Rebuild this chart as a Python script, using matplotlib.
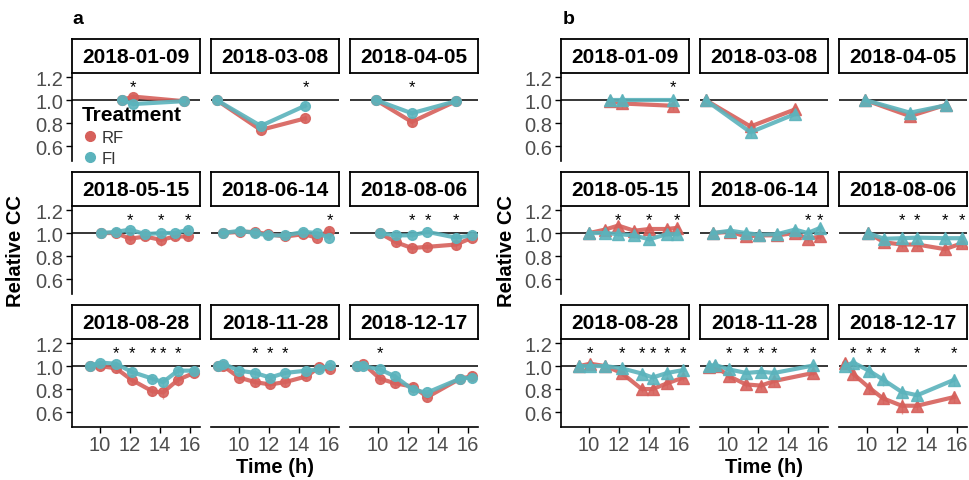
import matplotlib
matplotlib.use("Agg")
import matplotlib.pyplot as plt
from matplotlib.lines import Line2D

plt.rcParams.update({
    'font.family': ['Liberation Sans', 'DejaVu Sans'],
    'font.size': 13,
})

# ---------- data ----------
dates = ["2018-01-09", "2018-03-08", "2018-04-05",
         "2018-05-15", "2018-06-14", "2018-08-06",
         "2018-08-28", "2018-11-28", "2018-12-17"]

# panel a
a_time = [
    [11.47, 12.2, 15.6],
    [8.5, 11.45, 14.4],
    [9.85, 12.25, 15.2],
    [10.07, 11.07, 12.0, 13.0, 14.07, 15.0, 15.9],
    [8.9, 10.07, 11.07, 11.9, 13.1, 14.3, 15.2, 16.0],
    [10.1, 11.2, 12.25, 13.3, 15.2, 16.3],
    [9.3, 10.0, 11.07, 12.1, 13.5, 14.2, 15.2, 16.27],
    [8.62, 8.95, 10.0, 11.07, 12.07, 13.07, 14.5, 15.35, 16.07],
    [8.58, 9.02, 10.13, 11.13, 12.36, 13.29, 15.47, 16.24],
]
a_rf = [
    [1.00, 1.03, 0.99],
    [1.00, 0.74, 0.84],
    [1.00, 0.81, 0.99],
    [1.00, 1.00, 0.95, 0.97, 0.94, 0.97, 0.97],
    [1.00, 1.01, 1.01, 0.99, 0.97, 0.99, 0.96, 1.02],
    [1.00, 0.92, 0.87, 0.88, 0.90, 0.96],
    [1.00, 1.00, 0.98, 0.88, 0.78, 0.77, 0.88, 0.94],
    [1.00, 1.00, 0.90, 0.86, 0.84, 0.86, 0.91, 0.99, 0.97],
    [1.00, 1.02, 0.89, 0.85, 0.82, 0.73, 0.89, 0.91],
]
a_fi = [
    [1.00, 0.965, 0.99],
    [1.00, 0.775, 0.95],
    [1.00, 0.885, 0.99],
    [1.00, 1.01, 1.03, 0.99, 1.00, 1.00, 1.03],
    [1.00, 1.02, 1.00, 0.98, 0.98, 1.01, 1.00, 0.96],
    [1.00, 0.98, 0.98, 1.01, 0.96, 0.98],
    [1.00, 1.03, 1.02, 0.95, 0.89, 0.86, 0.96, 0.96],
    [1.00, 1.02, 0.96, 0.94, 0.90, 0.94, 0.96, 0.97, 1.01],
    [1.00, 1.00, 0.97, 0.91, 0.79, 0.77, 0.89, 0.90],
]
a_rf_se = [
    [0.01, 0.02, 0.01],
    [0.01, 0.03, 0.03],
    [0.01, 0.04, 0.02],
    [0.01, 0.02, 0.03, 0.03, 0.05, 0.03, 0.04],
    [0.01, 0.02, 0.03, 0.03, 0.03, 0.02, 0.03, 0.02],
    [0.01, 0.04, 0.04, 0.03, 0.04, 0.03],
    [0.04, 0.03, 0.04, 0.04, 0.04, 0.06, 0.05, 0.03],
    [0.01, 0.02, 0.03, 0.04, 0.03, 0.03, 0.03, 0.02, 0.02],
    [0.02, 0.03, 0.04, 0.04, 0.04, 0.03, 0.03, 0.04],
]
a_fi_se = [
    [0.01, 0.02, 0.01],
    [0.01, 0.03, 0.02],
    [0.01, 0.02, 0.02],
    [0.01, 0.01, 0.02, 0.03, 0.02, 0.02, 0.03],
    [0.01, 0.02, 0.02, 0.02, 0.02, 0.02, 0.02, 0.02],
    [0.01, 0.03, 0.02, 0.02, 0.03, 0.03],
    [0.02, 0.02, 0.02, 0.02, 0.03, 0.03, 0.03, 0.03],
    [0.01, 0.02, 0.02, 0.03, 0.02, 0.02, 0.02, 0.02, 0.02],
    [0.02, 0.02, 0.02, 0.03, 0.03, 0.02, 0.03, 0.02],
]
a_stars = [
    [12.2], [14.45], [12.25],
    [12.0, 14.07, 15.9], [16.05], [12.25, 13.3, 15.2],
    [11.07, 12.1, 13.5, 14.2, 15.2], [11.07, 12.07, 13.07], [10.13],
]

# panel b
b_time = [
    [11.4, 12.2, 15.6],
    [8.5, 11.5, 14.5],
    [9.87, 12.87, 15.3],
    [10.02, 11.07, 11.95, 13.0, 14.02, 15.18, 15.9],
    [8.98, 10.16, 11.2, 12.09, 13.27, 14.47, 15.31, 16.15],
    [10.09, 11.13, 12.31, 13.35, 15.2, 16.31],
    [9.36, 10.07, 11.07, 12.18, 13.51, 14.24, 15.22, 16.29],
    [8.75, 9.13, 10.09, 11.2, 12.2, 13.09, 15.7],
    [8.53, 9.09, 10.16, 11.05, 12.31, 13.35, 15.8],
]
b_rf = [
    [0.99, 0.97, 0.95],
    [1.00, 0.77, 0.92],
    [1.00, 0.86, 0.96],
    [1.00, 1.03, 1.065, 1.02, 1.035, 1.035, 1.045],
    [1.00, 1.01, 0.97, 0.98, 0.98, 1.00, 0.95, 0.97],
    [1.00, 0.92, 0.90, 0.90, 0.86, 0.91],
    [1.00, 1.02, 1.00, 0.94, 0.80, 0.80, 0.85, 0.90],
    [0.99, 1.00, 0.91, 0.84, 0.83, 0.87, 0.94],
    [1.03, 0.93, 0.81, 0.72, 0.655, 0.655, 0.73],
]
b_fi = [
    [1.00, 1.00, 1.00],
    [1.00, 0.72, 0.88],
    [1.00, 0.89, 0.955],
    [1.00, 1.00, 0.99, 0.98, 0.945, 0.99, 0.99],
    [1.00, 1.02, 1.00, 0.985, 0.99, 1.03, 1.00, 1.045],
    [1.00, 0.95, 0.955, 0.96, 0.955, 0.955],
    [1.00, 1.00, 1.00, 0.98, 0.935, 0.90, 0.94, 0.965],
    [1.00, 1.01, 0.97, 0.94, 0.95, 0.94, 1.005],
    [1.00, 1.03, 0.957, 0.884, 0.775, 0.746, 0.88],
]
b_rf_se = [
    [0.01, 0.04, 0.04],
    [0.01, 0.04, 0.03],
    [0.01, 0.03, 0.02],
    [0.01, 0.02, 0.03, 0.02, 0.03, 0.02, 0.03],
    [0.01, 0.02, 0.02, 0.02, 0.02, 0.02, 0.03, 0.03],
    [0.01, 0.03, 0.03, 0.03, 0.03, 0.03],
    [0.02, 0.03, 0.02, 0.03, 0.03, 0.04, 0.04, 0.03],
    [0.01, 0.02, 0.03, 0.03, 0.03, 0.04, 0.03],
    [0.04, 0.04, 0.05, 0.05, 0.07, 0.04, 0.05],
]
b_fi_se = [
    [0.01, 0.05, 0.03],
    [0.01, 0.04, 0.02],
    [0.01, 0.03, 0.02],
    [0.01, 0.02, 0.02, 0.02, 0.02, 0.02, 0.02],
    [0.01, 0.02, 0.02, 0.02, 0.02, 0.02, 0.02, 0.02],
    [0.01, 0.02, 0.02, 0.02, 0.02, 0.02],
    [0.02, 0.02, 0.02, 0.02, 0.02, 0.03, 0.03, 0.03],
    [0.01, 0.02, 0.02, 0.02, 0.02, 0.02, 0.02],
    [0.03, 0.04, 0.05, 0.06, 0.05, 0.04, 0.05],
]
b_stars = [
    [15.6], [], [],
    [11.95, 14.02, 15.9], [15.31, 16.15], [12.31, 13.35, 15.2, 16.31],
    [10.07, 12.18, 13.51, 14.24, 15.22, 16.29], [10.09, 11.2, 12.2, 13.09, 15.7],
    [9.09, 10.16, 11.05, 13.35, 15.8],
]

# ---------- style ----------
RF_COL = '#D6605B'
FI_COL = '#5BB3BC'
W, H = 970, 481


def box(left, top, w, h):
    return [left / W, 1 - (top + h) / H, w / W, h / H]


def draw_panel(fig, col_left, times, rf, fi, rf_se, fi_se, stars, marker):
    strip_tops = [40, 173, 306]
    for i, d in enumerate(dates):
        r, c = divmod(i, 3)
        left = col_left[c]
        top = strip_tops[r]

        # strip
        s = fig.add_axes(box(left, top, 128, 34))
        s.set_xticks([])
        s.set_yticks([])
        for sp in s.spines.values():
            sp.set_linewidth(1.3)
            sp.set_color('black')
        s.text(0.5, 0.48, d, ha='center', va='center', fontsize=15,
               fontweight='bold', transform=s.transAxes)

        ax = fig.add_axes(box(left, top + 34, 128, 88))
        ax.set_xlim(8.13, 16.67)
        ax.set_ylim(0.47, 1.235)
        ax.axhline(1.0, color='black', lw=1.1, zorder=1)

        for t, v, e, colr in ((times[i], rf[i], rf_se[i], RF_COL),
                              (times[i], fi[i], fi_se[i], FI_COL)):
            ax.errorbar(t, v, yerr=e, fmt='none', ecolor=colr, elinewidth=1.0,
                        alpha=0.6, zorder=2)
            ax.plot(t, v, color=colr, lw=3.0, marker=marker,
                    ms=7 if marker == 'o' else 8, alpha=0.9, zorder=3)

        for st in stars[i]:
            ax.text(st, 1.12, '*', ha='center', va='center', fontsize=12)

        for sp in ('top', 'right'):
            ax.spines[sp].set_visible(False)
        ax.spines['left'].set_visible(c == 0)
        ax.spines['bottom'].set_visible(r == 2)
        ax.spines['left'].set_linewidth(1.2)
        ax.spines['bottom'].set_linewidth(1.2)
        ax.tick_params(colors='#4D4D4D', labelsize=14.5, length=4, width=1.0,
                       pad=2)
        if c == 0:
            ax.set_yticks([0.6, 0.8, 1.0, 1.2])
            ax.set_yticklabels(['0.6', '0.8', '1.0', '1.2'])
            ax.tick_params(axis='y', color='black')
        else:
            ax.set_yticks([])
        if r == 2:
            ax.set_xticks([10, 12, 14, 16])
            ax.tick_params(axis='x', color='black')
        else:
            ax.set_xticks([])
        ax.patch.set_alpha(0)


fig = plt.figure(figsize=(9.7, 4.81), dpi=100)

draw_panel(fig, [72, 211, 350], a_time, a_rf, a_fi, a_rf_se, a_fi_se, a_stars, 'o')
draw_panel(fig, [561, 700, 839], b_time, b_rf, b_fi, b_rf_se, b_fi_se, b_stars, '^')

# panel tags
fig.text(72 / W, 1 - 20 / H, 'a', fontsize=14, fontweight='bold', va='center', ha='left')
fig.text(563 / W, 1 - 20 / H, 'b', fontsize=14, fontweight='bold', va='center', ha='left')

# axis titles
for x in (16, 507):
    fig.text(x / W, 1 - 251 / H, 'Relative CC', rotation=90, fontsize=14.5,
             fontweight='bold', ha='center', va='center')
for x in (275, 764):
    fig.text(x / W, 1 - 468 / H, 'Time (h)', fontsize=14.5, fontweight='bold',
             ha='center', va='center')

# legend
handles = [Line2D([], [], marker='o', ls='', color=RF_COL, ms=7),
           Line2D([], [], marker='o', ls='', color=FI_COL, ms=7)]
leg = fig.legend(handles, ['RF', 'FI'], title='Treatment', loc='upper left',
                 bbox_to_anchor=(82 / W, 1 - 106 / H), frameon=False,
                 fontsize=12, title_fontproperties={'weight': 'bold', 'size': 15},
                 handletextpad=0.2, handlelength=1.0, borderpad=0,
                 labelspacing=0.35, alignment='left', borderaxespad=0)
for t in leg.get_texts():
    t.set_color('#333333')

plt.savefig('out.png', dpi=100)
